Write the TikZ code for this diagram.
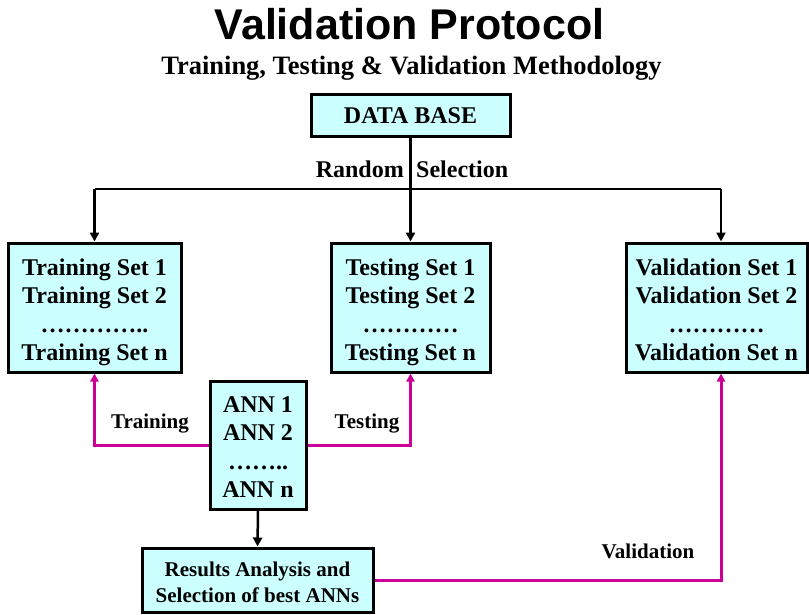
\documentclass[tikz,border=0pt]{standalone}
\usepackage{fontspec}
\setmainfont{Liberation Serif}
\newfontfamily\titlefont{Liberation Sans}
\usetikzlibrary{arrows.meta}
\definecolor{boxfill}{HTML}{CCFFFF}
\definecolor{linkmag}{HTML}{CC0099}
% invisible rules that fix the height of a first row and the depth of a last row
\newcommand\rowtop[1]{\rule{0pt}{#1}}
\newcommand\rowbottom[1]{\rule[-#1]{0pt}{#1}}

\begin{document}
\begin{tikzpicture}[x=1pt,y=-1pt,
  box/.style={draw=black, line width=3pt, fill=boxfill, inner sep=0pt,
    align=center, font=\bfseries\fontsize{24}{28.5}\selectfont},
  smallbox/.style={box, font=\bfseries\fontsize{21}{26}\selectfont},
  bus/.style={draw=black, line width=2.5pt},
  flow/.style={bus, -{Triangle[length=9pt,width=9pt]}},
  link/.style={draw=linkmag, line width=3pt, -{Triangle[length=8pt,width=8pt]}},
  lbl/.style={font=\bfseries\fontsize{21}{26}\selectfont, inner sep=0pt, anchor=base},
  head/.style={font=\bfseries\fontsize{24}{29}\selectfont, inner sep=0pt}]
\useasboundingbox (0,0) rectangle (809,614);

% headings
\node[font=\titlefont\bfseries\fontsize{43}{48}\selectfont, inner sep=0pt] (title) at (409.5,24) {Validation Protocol};
\node[font=\bfseries\fontsize{26.5}{30}\selectfont, inner sep=0pt] (subtitle) at (411.5,68) {Training, Testing \& Validation Methodology};

% boxes
\node[box, minimum width=199, minimum height=42] (db) at (410.5,115)
  {\rowtop{18pt}DATA BASE};
\node[box, minimum width=173, minimum height=129] (training) at (94.5,307.5)
  {\rowtop{28.5pt}Training Set 1\\Training Set 2\\…………..\\Training Set n\rowbottom{8pt}};
\node[box, minimum width=159, minimum height=129] (testing) at (410.5,307.5)
  {\rowtop{28.5pt}Testing Set 1\\Testing Set 2\\…………\\Testing Set n\rowbottom{8pt}};
\node[box, minimum width=181, minimum height=129] (validation) at (716.5,307.5)
  {\rowtop{28.5pt}Validation Set 1\\Validation Set 2\\…………\\Validation Set n\rowbottom{8pt}};
\node[box, minimum width=96, minimum height=128] (ann) at (258,445)
  {\rowtop{27.5pt}ANN 1\\ANN 2\\……..\\ANN n\rowbottom{8pt}};
\node[smallbox, minimum width=231, minimum height=64] (results) at (257.5,580)
  {\rowtop{25pt}Results Analysis and\\Selection of best ANNs\rowbottom{7pt}};

% random split of the data base
\coordinate (split) at (410.5,189);
\coordinate (vtop) at (721,189);
\node[head, anchor=base east] (rnd) at (404,177) {Random};
\node[head, anchor=base west] (sel) at (416,177) {Selection};
\draw[bus] (training.north |- split) -- (vtop);
\draw[flow] (db.south) -- (testing.north);
\draw[flow] (training.north |- split) -- (training.north);
\draw[flow] (vtop) -- (vtop |- validation.north);

% networks to sets
\draw[link] (ann.west) -- (ann.west -| training.south) -- (training.south);
\draw[link] (ann.east) -- (ann.east -| testing.south) -- (testing.south);
\draw[flow] (ann.south) -- (results.north);
\draw[link] (results.east) -- (results.east -| vtop) -- (vtop |- validation.south);

% connector labels
\node[lbl] (ltrain) at (150,428) {Training};
\node[lbl] (ltest) at (367,428) {Testing};
\node[lbl] (lval) at (648,558) {Validation};
\end{tikzpicture}
\end{document}
